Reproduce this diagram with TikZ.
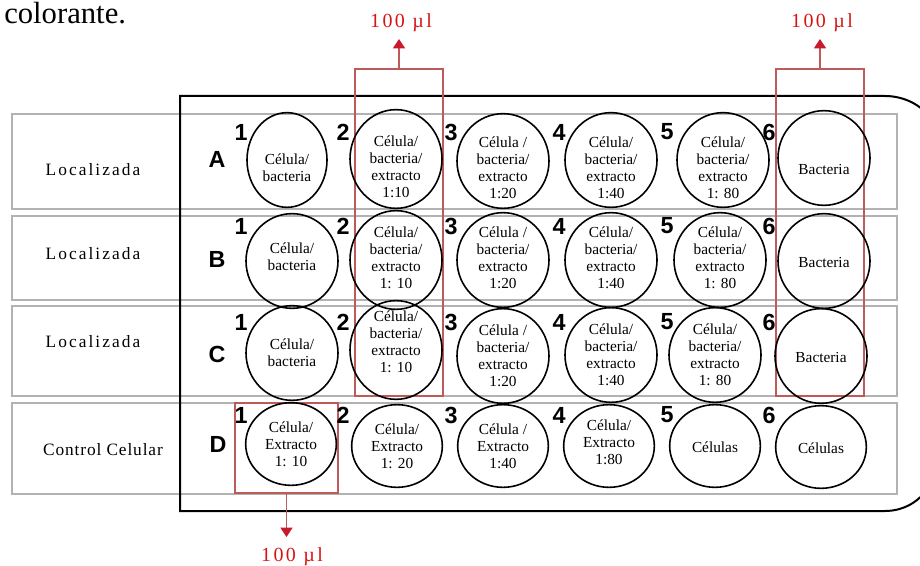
\documentclass[tikz,border=0pt]{standalone}
\usepackage{fontspec}
\setmainfont{Liberation Serif}
\newfontfamily\arialfont{Liberation Sans}
\newfontfamily\widefont[LetterSpace=12]{Liberation Serif}
\newfontfamily\midfont[LetterSpace=5]{Liberation Serif}
\newfontfamily\redfont[LetterSpace=12]{Liberation Serif}
\usetikzlibrary{arrows.meta,shapes.geometric}
\definecolor{redline}{RGB}{190,90,90}
\definecolor{redtip}{RGB}{200,25,45}
\definecolor{redtext}{RGB}{215,20,20}
\begin{document}
\begin{tikzpicture}[x=0.75pt,y=-0.75pt,
  well/.style={ellipse, draw, line width=1.2pt, inner sep=0pt, minimum width=69pt, minimum height=71pt},
  wellA/.style={well, minimum width=60pt},
  wellB/.style={well, minimum height=74pt},
  wellD/.style={well, minimum width=68pt, minimum height=62pt},
  wtxt/.style={align=center, font=\fontsize{11.5}{12.75}\selectfont, inner sep=0pt},
  num/.style={font=\arialfont\bfseries\fontsize{17.5}{17.5}\selectfont, inner sep=0pt},
  rowlab/.style={font=\widefont\fontsize{13}{14}\selectfont, inner sep=0pt},
  rowlabc/.style={font=\midfont\fontsize{13}{14}\selectfont, inner sep=0pt},
  redrect/.style={draw=redline, line width=0.8pt, inner sep=0pt},
  redarrow/.style={draw=redline, line width=0.8pt, -{Triangle[width=9pt,length=7pt,fill=redtip,color=redtip]}},
  redtxt/.style={text=redtext, font=\redfont\fontsize{15}{15}\selectfont, inner sep=0pt},
  rowbox/.style={draw=gray!60, line width=1.3pt},
  plate/.style={draw=black, line width=1.5pt}]
\useasboundingbox (0,0) rectangle (920,566);
\clip (0,0) rectangle (920,566);

% intro text
\node[anchor=base west, inner sep=0pt, font=\fontsize{23}{25}\selectfont] (intro) at (4,23.5) {colorante.};

% row boxes
\draw[rowbox] (12,114) rectangle (897,209);
\draw[rowbox] (12,216) rectangle (897,300);
\draw[rowbox] (12,306) rectangle (897,396);
\draw[rowbox] (12,403) rectangle (897,494);

% plate outline
\draw[plate] (180,96) -- (885,96) .. controls (905,96) and (925,106) .. (935,125) -- (935,475)
  .. controls (925,500) and (905,511) .. (885,511) -- (180,511) -- cycle;

% red frames and arrows
\node[redrect, minimum width=66pt, minimum height=245.25pt] (r1) at (399,232.5) {};
\node[redrect, minimum width=66pt, minimum height=245.25pt] (r2) at (820,232.5) {};
\node[redrect, minimum width=77.25pt, minimum height=67.5pt] (r3) at (286.5,448) {};
\coordinate (t1) at (399,39);
\coordinate (t2) at (820,39);
\coordinate (t3) at (286.5,537);
\draw[redarrow] (r1.north) -- (t1);
\draw[redarrow] (r2.north) -- (t2);
\draw[redarrow] (r3.south) -- (t3);
\node[redtxt] (l1) at (401,23) {100 µl};
\node[redtxt] (l2) at (822,23) {100 µl};
\node[redtxt] (l3) at (292,557) {100 µl};

% row labels
\node[rowlab] (labA) at (93,170) {Localizada};
\node[rowlab] (labB) at (93,254) {Localizada};
\node[rowlab] (labC) at (93,342) {Localizada};
\node[rowlabc] (labD) at (103,450) {Control Celular};

% row letters
\node[num] (A) at (217,159) {A};
\node[num] (B) at (217,259) {B};
\node[num] (C) at (217,354) {C};
\node[num] (D) at (218,444) {D};

% column numbers
\foreach \r/\y in {A/132,B/226,C/322,D/415}{
  \node[num] (n\r1) at (241,\y) {1};
  \node[num] (n\r2) at (343,\y) {2};
  \node[num] (n\r3) at (451,\y) {3};
  \node[num] (n\r4) at (559,\y) {4};
  \node[num] (n\r5) at (667,\y) {5};
  \node[num] (n\r6) at (769,\y) {6};
}

% wells row A
\node[wellA] (A1) at (287,160) {};
\node[wellB] (A2) at (396,159) {};
\node[well] (A3) at (503,161) {};
\node[well] (A4) at (611,160) {};
\node[well] (A5) at (723,160) {};
\node[well] (A6) at (824,158) {};
\node[wtxt] at ([yshift=-5.5pt]A1) {Célula/\\bacteria};
\node[wtxt] at ([yshift=-6pt]A2) {Célula/\\bacteria/\\extracto\\1:10};
\node[wtxt] at ([yshift=-5pt]A3) {Célula /\\bacteria/\\extracto\\1:20};
\node[wtxt] at ([yshift=-6pt]A4) {Célula/\\bacteria/\\extracto\\1:40};
\node[wtxt] at ([yshift=-6pt]A5) {Célula/\\bacteria/\\extracto\\1: 80};
\node[wtxt] at ([yshift=-9pt]A6) {Bacteria};

% wells row B
\node[well] (B1) at (292,261) {};
\node[wellB] (B2) at (396,260) {};
\node[well] (B3) at (503,260) {};
\node[well] (B4) at (611,260) {};
\node[well] (B5) at (720,260) {};
\node[well] (B6) at (824,261) {};
\node[wtxt] at ([yshift=3pt]B1) {Célula/\\bacteria};
\node[wtxt] at ([yshift=2pt]B2) {Célula/\\bacteria/\\extracto\\1: 10};
\node[wtxt] at ([yshift=2pt]B3) {Célula /\\bacteria/\\extracto\\1:20};
\node[wtxt] at ([yshift=2pt]B4) {Célula/\\bacteria/\\extracto\\1:40};
\node[wtxt] at ([yshift=2pt]B5) {Célula/\\bacteria/\\extracto\\1: 80};
\node[wtxt] at ([yshift=-1pt]B6) {Bacteria};

% wells row C
\node[well] (C1) at (292,353) {};
\node[wellB] (C2) at (396,350) {};
\node[well] (C3) at (503,356) {};
\node[well] (C4) at (611,355) {};
\node[well] (C5) at (715,355) {};
\node[well] (C6) at (821,356) {};
\node[wtxt] at (C1) {Célula/\\bacteria};
\node[wtxt] at ([yshift=6pt]C2) {Célula/\\bacteria/\\extracto\\1: 10};
\node[wtxt] at (C3) {Célula /\\bacteria/\\extracto\\1:20};
\node[wtxt] at (C4) {Célula/\\bacteria/\\extracto\\1:40};
\node[wtxt] at (C5) {Célula/\\bacteria/\\extracto\\1: 80};
\node[wtxt] at ([yshift=-1pt]C6) {Bacteria};

% wells row D
\node[wellD] (D1) at (291,444) {};
\node[wellD] (D2) at (397,446) {};
\node[wellD] (D3) at (503,446) {};
\node[wellD] (D4) at (609,446) {};
\node[wellD] (D5) at (715,446) {};
\node[wellD] (D6) at (821,447) {};
\node[wtxt] at (D1) {Célula/\\Extracto\\1: 10};
\node[wtxt] at (D2) {Célula/\\Extracto\\1: 20};
\node[wtxt] at (D3) {Célula /\\Extracto\\1:40};
\node[wtxt] at ([yshift=3pt]D4) {Célula/\\Extracto\\1:80};
\node[wtxt] at ([yshift=-1pt]D5) {Células};
\node[wtxt] at ([yshift=-1pt]D6) {Células};
\end{tikzpicture}
\end{document}
